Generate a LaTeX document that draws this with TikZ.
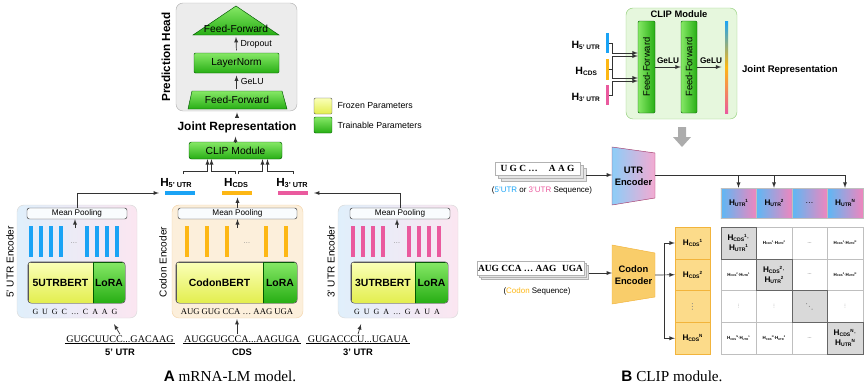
\documentclass[tikz,border=0pt]{standalone}
\usepackage{fontspec}
\usepackage{graphicx}
\setmainfont{Liberation Sans}
\newfontfamily\seqfont{Liberation Serif}
\newfontfamily\symfont{DejaVu Sans}
\usetikzlibrary{positioning,calc}

\definecolor{utrblue}{HTML}{1AA3F5}
\definecolor{cdsorange}{HTML}{FDB714}
\definecolor{utrpink}{HTML}{EA5A9E}
\definecolor{frozenhi}{HTML}{FAFFB8}
\definecolor{frozenlo}{HTML}{E3EE4E}
\definecolor{trainhi}{HTML}{86E866}
\definecolor{trainlo}{HTML}{27AE14}
\definecolor{encblue}{HTML}{E0EFFB}
\definecolor{encpink}{HTML}{FBE6F1}
\definecolor{codonbg}{HTML}{FCEFDB}
\definecolor{codonline}{HTML}{F3D3A8}
\definecolor{cliplight}{HTML}{E6F7DD}
\definecolor{clipline}{HTML}{93CF7A}
\definecolor{tilecds}{HTML}{FCDB8A}
\definecolor{tileline}{HTML}{F2B43C}
\definecolor{tileblue}{HTML}{5CB8F5}
\definecolor{tilepink}{HTML}{EE86BE}
\definecolor{encorange}{HTML}{F9CD6A}
\definecolor{darkline}{HTML}{333333}

\def\px{0.03cm}
\newcommand{\fsz}[2]{\fontsize{#1}{#2}\selectfont}
\newcommand{\Hsub}[2]{\textbf{H\raisebox{-0.2ex}{\scalebox{0.62}{#1}}\raisebox{0.75ex}{\scalebox{0.55}{#2}}}}
\newcommand{\vdotsym}{{\symfont\color{gray}⋮}}
\newcommand{\ddotsym}{{\symfont\color{gray}⋱}}

\begin{document}
\begin{tikzpicture}[x=\px,y=-\px,>=latex,
	sz/.style 2 args={minimum width=#1*\px,minimum height=#2*\px,inner sep=0pt}]
	\tikzstyle{arr}=[->,draw=darkline,line width=0.6pt]
	\tikzstyle{frozen}=[draw=gray!70!black,top color=frozenhi,bottom color=frozenlo]
	\tikzstyle{trainable}=[draw=green!35!black,top color=trainhi,bottom color=trainlo]
	\tikzstyle{pool}=[draw=darkline,rounded corners=2pt,fill=white!80!encblue,font=\fsz{7}{8}]
	\tikzstyle{enclbl}=[rotate=90,font=\fsz{8.6}{10}]
	\tikzstyle{seqin}=[font=\seqfont\fsz{6.8}{7}]
	\tikzstyle{seqout}=[font=\seqfont\fsz{8.6}{10},inner sep=1pt]
	\tikzstyle{region}=[font=\bfseries\fsz{8}{9}]
	\tikzstyle{mcell}=[draw=gray!50,fill=white,font=\fsz{3.8}{4.5}]
	\tikzstyle{dcell}=[draw=gray!80!black,fill=gray!30,font=\fsz{7}{8.5},align=center]
	\tikzstyle{utrtile}=[draw=gray!50,left color=tileblue,right color=tilepink,font=\fsz{7}{8}]
	\tikzstyle{cdstile}=[draw=tileline,fill=tilecds,font=\fsz{7}{8}]
	\useasboundingbox (0,0) rectangle (865,390);

	% ---- A: prediction head
	\node[draw=gray!60,fill=gray!15,rounded corners=6pt,sz={121}{108}] (head) at (236.5,57) {};
	\node[rotate=90,font=\bfseries\fsz{10}{12}] (head-lbl) at (166,57) {Prediction Head};
	\draw[trainable] (193,35) -- (236,6) -- (279,35) -- cycle;
	\node[font=\fsz{8.7}{10}] (ff-2) at (236,29) {Feed-Forward};
	\coordinate (ff-2-b) at (236,37);
	\node[trainable,rounded corners=1pt,sz={85}{20},font=\fsz{8.7}{10}] (ln) at (236.5,63) {LayerNorm};
	\draw[trainable] (188,109) -- (192,91) -- (282,91) -- (287,109) -- cycle;
	\node[font=\fsz{8.7}{10}] (ff-1) at (237,100) {Feed-Forward};
	\coordinate (ff-1-t) at (236.5,89);
	\draw[arr,shorten <=2pt] (ln.north) -- (ff-2-b) node[midway,right,font=\fsz{7.5}{9}] {Dropout};
	\draw[arr,shorten >=2pt] (ff-1-t) -- (ln.south) node[midway,right,font=\fsz{7.5}{9}] {GeLU};

	\node[font=\bfseries\fsz{10.2}{12}] (joint) at (237,127) {Joint Representation};
	\draw[arr,shorten >=1pt] (joint.north) -- (joint.north |- head.south);
	\node[trainable,rounded corners=2pt,sz={93}{17},font=\fsz{8.8}{10}] (clip) at (235.5,150.5) {CLIP Module};
	\draw[arr] (clip.north) -- (clip.north |- joint.south);

	% legend
	\node[frozen,rounded corners=1pt,sz={18}{16}] (leg-f) at (323,106) {};
	\node[right=1pt of leg-f,font=\fsz{7.5}{9}] (leg-f-t) {Frozen Parameters};
	\node[trainable,rounded corners=1pt,sz={18}{16}] (leg-t) at (323,125) {};
	\node[right=1pt of leg-t,font=\fsz{7.5}{9}] (leg-t-t) {Trainable Parameters};

	% H vectors
	\node[fill=utrblue,sz={30}{4}] (bar-5) at (180,193) {};
	\node[fill=cdsorange,sz={30}{4}] (bar-c) at (237,193) {};
	\node[fill=utrpink,sz={30}{4}] (bar-3) at (293,193) {};
	\node[font=\fsz{10}{12}] (h-5) at (176,183) {\Hsub{5' UTR}{}};
	\node[font=\fsz{10}{12}] (h-c) at (236,183) {\Hsub{CDS}{}};
	\node[font=\fsz{10}{12}] (h-3) at (292,183) {\Hsub{3' UTR}{}};
	\draw[arr] ([xshift=7*\px]h-5.north) -- ++(0,-3) -| ([xshift=-28*\px]clip.south);
	\draw[arr] ([xshift=-1*\px]h-c.north) -- ++(0,-3) -| ([xshift=-24*\px]clip.south);
	\draw[arr] ([xshift=2*\px]h-c.north) -- ++(0,-3) -| ([xshift=27*\px]clip.south);
	\draw[arr] ([xshift=1*\px]h-3.north) -- ++(0,-3) -| ([xshift=32*\px]clip.south);

	% 5' UTR encoder
	\node[draw=gray!30,rounded corners=6pt,left color=encblue,right color=encpink,sz={120}{113}] (enc-5) at (77,261.5) {};
	\node[enclbl] (enc-5-lbl) at (10,262) {5' UTR Encoder};
	\node[pool,sz={100}{11}] (mp-5) at (77,213.5) {Mean Pooling};
	\foreach \x in {31,41,51,61,87,97,107,117}
		\fill[utrblue] (\x-2,226) rectangle (\x+2,257);
	\node[font=\fsz{6}{7},text=gray] (dots-5) at (74,243) {\dots};
	\draw[arr] ($(mp-5.south)+(-2,9)$) -- ++(0,-9);
	\begin{scope}
		\clip[rounded corners=3pt] (28,262) rectangle (125,303);
		\node[frozen,sz={65}{41},font=\bfseries\fsz{8.9}{10}] (bert-5) at (60.5,282.5) {5UTRBERT};
		\node[trainable,sz={32}{41},font=\bfseries\fsz{8.9}{10}] (lora-5) at (109,282.5) {LoRA};
	\end{scope}
	\draw[gray!60!black,rounded corners=3pt] (bert-5.north west) rectangle (lora-5.south east);
	\node[seqin] (s5-in) at (75,312) {G~~U~~G~~C~~\dots~~C~~A~~A~~G};
	\draw[arr,shorten >=5pt] (mp-5.north) |- (bar-5.west);

	% codon encoder
	\node[draw=codonline,rounded corners=6pt,fill=codonbg,sz={131}{113}] (enc-c) at (237.5,261.5) {};
	\node[enclbl] (enc-c-lbl) at (163,262) {Codon Encoder};
	\node[pool,sz={119}{11}] (mp-c) at (237.5,213.5) {Mean Pooling};
	\foreach \x in {187,207,227,266,286}
		\fill[cdsorange] (\x-2,226) rectangle (\x+2,257);
	\node[font=\fsz{6}{7},text=gray] (dots-c) at (247,243) {\dots};
	\draw[arr] ($(mp-c.south)+(0,9)$) -- ++(0,-9);
	\begin{scope}
		\clip[rounded corners=3pt] (176,262) rectangle (297,303);
		\node[frozen,sz={87}{41},font=\bfseries\fsz{8.9}{10}] (bert-c) at (219.5,282.5) {CodonBERT};
		\node[trainable,sz={34}{41},font=\bfseries\fsz{8.9}{10}] (lora-c) at (280,282.5) {LoRA};
	\end{scope}
	\draw[gray!60!black,rounded corners=3pt] (bert-c.north west) rectangle (lora-c.south east);
	\node[seqin,font=\seqfont\fsz{7.4}{8}] (sc-in) at (237,312) {AUG~GUG~CCA~\dots~AAG~UGA};
	\draw[arr,shorten >=2pt] (mp-c.north) -- (mp-c.north |- bar-c.south);

	% 3' UTR encoder
	\node[draw=gray!30,rounded corners=6pt,left color=encblue,right color=encpink,sz={120}{113}] (enc-3) at (398,261.5) {};
	\node[enclbl] (enc-3-lbl) at (331,262) {3' UTR Encoder};
	\node[pool,sz={100}{11}] (mp-3) at (400,213.5) {Mean Pooling};
	\foreach \x in {353,363,373,383,409,419,429,439}
		\fill[utrpink] (\x-2,226) rectangle (\x+2,257);
	\node[font=\fsz{6}{7},text=gray] (dots-3) at (397,243) {\dots};
	\draw[arr] ($(mp-3.south)+(-3,9)$) -- ++(0,-9);
	\begin{scope}
		\clip[rounded corners=3pt] (351,262) rectangle (448,303);
		\node[frozen,sz={64}{41},font=\bfseries\fsz{8.9}{10}] (bert-3) at (383,282.5) {3UTRBERT};
		\node[trainable,sz={33}{41},font=\bfseries\fsz{8.9}{10}] (lora-3) at (431.5,282.5) {LoRA};
	\end{scope}
	\draw[gray!60!black,rounded corners=3pt] (bert-3.north west) rectangle (lora-3.south east);
	\node[seqin] (s3-in) at (397,312) {G~~U~~G~~A~~\dots~~G~~A~~U~~A};
	\draw[arr,shorten >=5pt] (mp-3.north) |- (bar-3.east);

	% mRNA regions
	\node[seqout] (seq-5) at (120,339) {GUGCUUCC...GACAAG};
	\node[seqout] (seq-c) at (242,339) {AUGGUGCCA...AAGUGA};
	\node[seqout] (seq-3) at (358,339) {GUGACCCU...UGAUA};
	\foreach \s/\t in {5/5' UTR,c/CDS,3/3' UTR}{
		\draw[line width=1pt] (seq-\s.south west) -- (seq-\s.south east);
		\node[region,below=1pt of seq-\s] (lab-\s) {\t};
	}
	\draw[arr] (seq-5.north) -- ++(-6,-10);
	\draw[arr] (seq-c.north -| sc-in.south) -- (sc-in.south);
	\draw[arr] (seq-3.north) -- ++(3,-10);

	\node[font=\seqfont\fsz{13}{15}] (cap-a) at (230,376) {{\rmfamily\bfseries A} mRNA-LM model.};

	% ---- B: CLIP module
	\node[draw=clipline,fill=cliplight,rounded corners=6pt,sz={111}{111}] (clip2) at (681.5,63.5) {};
	\node[font=\bfseries\fsz{8}{9}] (clip2-t) at (679,14) {CLIP Module};
	\node[trainable,rounded corners=1pt,sz={17}{92},left color=trainhi,right color=trainlo] (ff-a) at (646.5,67) {};
	\node[rotate=90,font=\fsz{8}{9}] (ff-a-t) at (ff-a) {Feed-Forward};
	\node[trainable,rounded corners=1pt,sz={16}{92},left color=trainhi,right color=trainlo] (ff-b) at (689,67) {};
	\node[rotate=90,font=\fsz{8}{9}] (ff-b-t) at (ff-b) {Feed-Forward};
	\node[sz={3}{92},top color=utrblue,bottom color=utrpink,middle color=cdsorange] (jr) at (726.5,67) {};
	\draw[arr] (ff-a) -- (ff-b) node[midway,above=-1pt,font=\bfseries\fsz{7}{8}] {GeLU};
	\draw[arr,shorten >=3pt] (ff-b) -- (jr) node[midway,above=-1pt,font=\bfseries\fsz{7}{8}] {GeLU};
	\node[anchor=west,font=\bfseries\fsz{8.2}{10}] (jr-t) at (738,70) {Joint Representation};

	\node[fill=utrblue,sz={3}{20}] (b5r) at (607,43) {};
	\node[fill=cdsorange,sz={3}{21}] (bcr) at (607,69.5) {};
	\node[fill=utrpink,sz={3}{20}] (b3r) at (607,95) {};
	\node[anchor=east,font=\fsz{9}{10}] (h5r) at (604,45) {\Hsub{5' UTR}{}};
	\node[anchor=east,font=\fsz{9}{10}] (hcr) at (601,71) {\Hsub{CDS}{}};
	\node[anchor=east,font=\fsz{9}{10}] (h3r) at (604,97) {\Hsub{3' UTR}{}};
	\draw[arr] (b5r.east) -- ++(4,0) |- ([yshift=14*\px]ff-a.west);
	\draw[arr] (bcr.east) -- ++(4,0) |- ([yshift=11*\px]ff-a.west);
	\draw[arr] (bcr.east) -- ++(4,0) |- ([yshift=-11*\px]ff-a.west);
	\draw[arr] (b3r.east) -- ++(4,0) |- ([yshift=-14*\px]ff-a.west);

	% down arrow
	\fill[gray!65] (678,127) -- (686,127) -- (686,137) -- (691,137) -- (682,147) -- (673,137) -- (678,137) -- cycle;

	% UTR encoder
	\foreach \d in {6,3}
		\filldraw[fill=gray!20,draw=gray!60] (495+\d,162+\d) rectangle (580+\d,175+\d);
	\node[draw=gray!60,fill=white,sz={85}{13},font=\seqfont\bfseries\fsz{8}{9}] (seq-u) at (537.5,168.5) {U G C \dots\hspace{1.2em}A A G};
	\node[font=\fsz{6.8}{8}] (seq-u-cap) at (542,190) {(\textcolor{utrblue}{5'UTR} or \textcolor{utrpink}{3'UTR} Sequence)};
	\draw[draw=utrpink!70!black,left color=tileblue!70!white,right color=tilepink!70!white] (612,147) -- (655,153) -- (655,198) -- (612,205) -- cycle;
	\node[align=center,font=\bfseries\fsz{8}{10}] (enc-u) at (633.5,176) {UTR\\Encoder};
	\coordinate (enc-u-w) at (612,175);
	\coordinate (enc-u-e) at (655,175);
	\draw[arr] (586,175) -- (enc-u-w);

	\foreach \i/\t in {1/{\Hsub{UTR}{1}},2/{\Hsub{UTR}{2}},3/{\dots},4/{\Hsub{UTR}{N}}}
		\node[utrtile,sz={35.5}{30}] (ut-\i) at ({703+35.5*\i},203) {\t};
	\draw[arr] (enc-u-e) -| (ut-4.north);
	\foreach \i in {1,2}
		\draw[arr] (ut-\i.north |- enc-u-e) -- (ut-\i.north);

	% codon encoder
	\foreach \d in {4,2}
		\filldraw[fill=gray!20,draw=gray!60] (477+\d,261+\d) rectangle (584+\d,275+\d);
	\node[draw=gray!60,fill=white,sz={107}{14},font=\seqfont\bfseries\fsz{8}{9}] (seq-c2) at (530.5,268) {AUG CCA \dots\ AAG\hspace{0.6em}UGA};
	\node[font=\fsz{6.8}{8}] (seq-c2-cap) at (537,291) {(\textcolor{cdsorange}{Codon} Sequence)};
	\draw[draw=tileline,fill=encorange] (612,245) -- (655,253) -- (655,297) -- (612,304) -- cycle;
	\node[align=center,font=\bfseries\fsz{8}{10}] (enc-c2) at (633.5,275) {Codon\\Encoder};
	\coordinate (enc-c2-w) at (612,273);
	\coordinate (enc-c2-e) at (655,275);
	\coordinate (split) at (664,275);
	\draw[arr] (589,273) -- (enc-c2-w);

	\foreach \r/\t in {1/{\Hsub{CDS}{1}},2/{\Hsub{CDS}{2}},3/{\vdotsym},4/{\Hsub{CDS}{N}}}
		\node[cdstile,sz={35}{31.75}] (cd-\r) at (692.5,{211.25+31.75*\r}) {\t};
	\draw[arr] (enc-c2-e) -- (cd-2.west);
	\draw[arr] (split) |- (cd-1.west);
	\draw[arr] (split) |- (cd-4.west);

	% similarity matrix
	\foreach \r/\c/\t in {1/2/{\Hsub{CDS}{1}·\Hsub{UTR}{2}},1/3/{\dots},1/4/{\Hsub{CDS}{1}·\Hsub{UTR}{N}},
		2/1/{\Hsub{CDS}{2}·\Hsub{UTR}{1}},2/3/{\dots},2/4/{\Hsub{CDS}{2}·\Hsub{UTR}{N}},
		3/1/{\vdotsym},3/2/{\vdotsym},3/4/{\vdotsym},
		4/1/{\Hsub{CDS}{N}·\Hsub{UTR}{1}},4/2/{\Hsub{CDS}{N}·\Hsub{UTR}{2}},4/3/{\dots}}
		\node[mcell,sz={35.5}{31.75}] (m-\r-\c) at ({703+35.5*\c},{211.25+31.75*\r}) {\t};
	\foreach \r/\t in {1/{\Hsub{CDS}{1}·\\\Hsub{UTR}{1}},2/{\Hsub{CDS}{2}·\\\Hsub{UTR}{2}},3/{\ddotsym},4/{\Hsub{CDS}{N}·\\\Hsub{UTR}{N}}}
		\node[dcell,sz={35.5}{31.75}] (m-\r-\r) at ({703+35.5*\r},{211.25+31.75*\r}) {\t};

	\node[font=\seqfont\fsz{13}{15}] (cap-b) at (672,376) {{\rmfamily\bfseries B} CLIP module.};
\end{tikzpicture}
\end{document}
